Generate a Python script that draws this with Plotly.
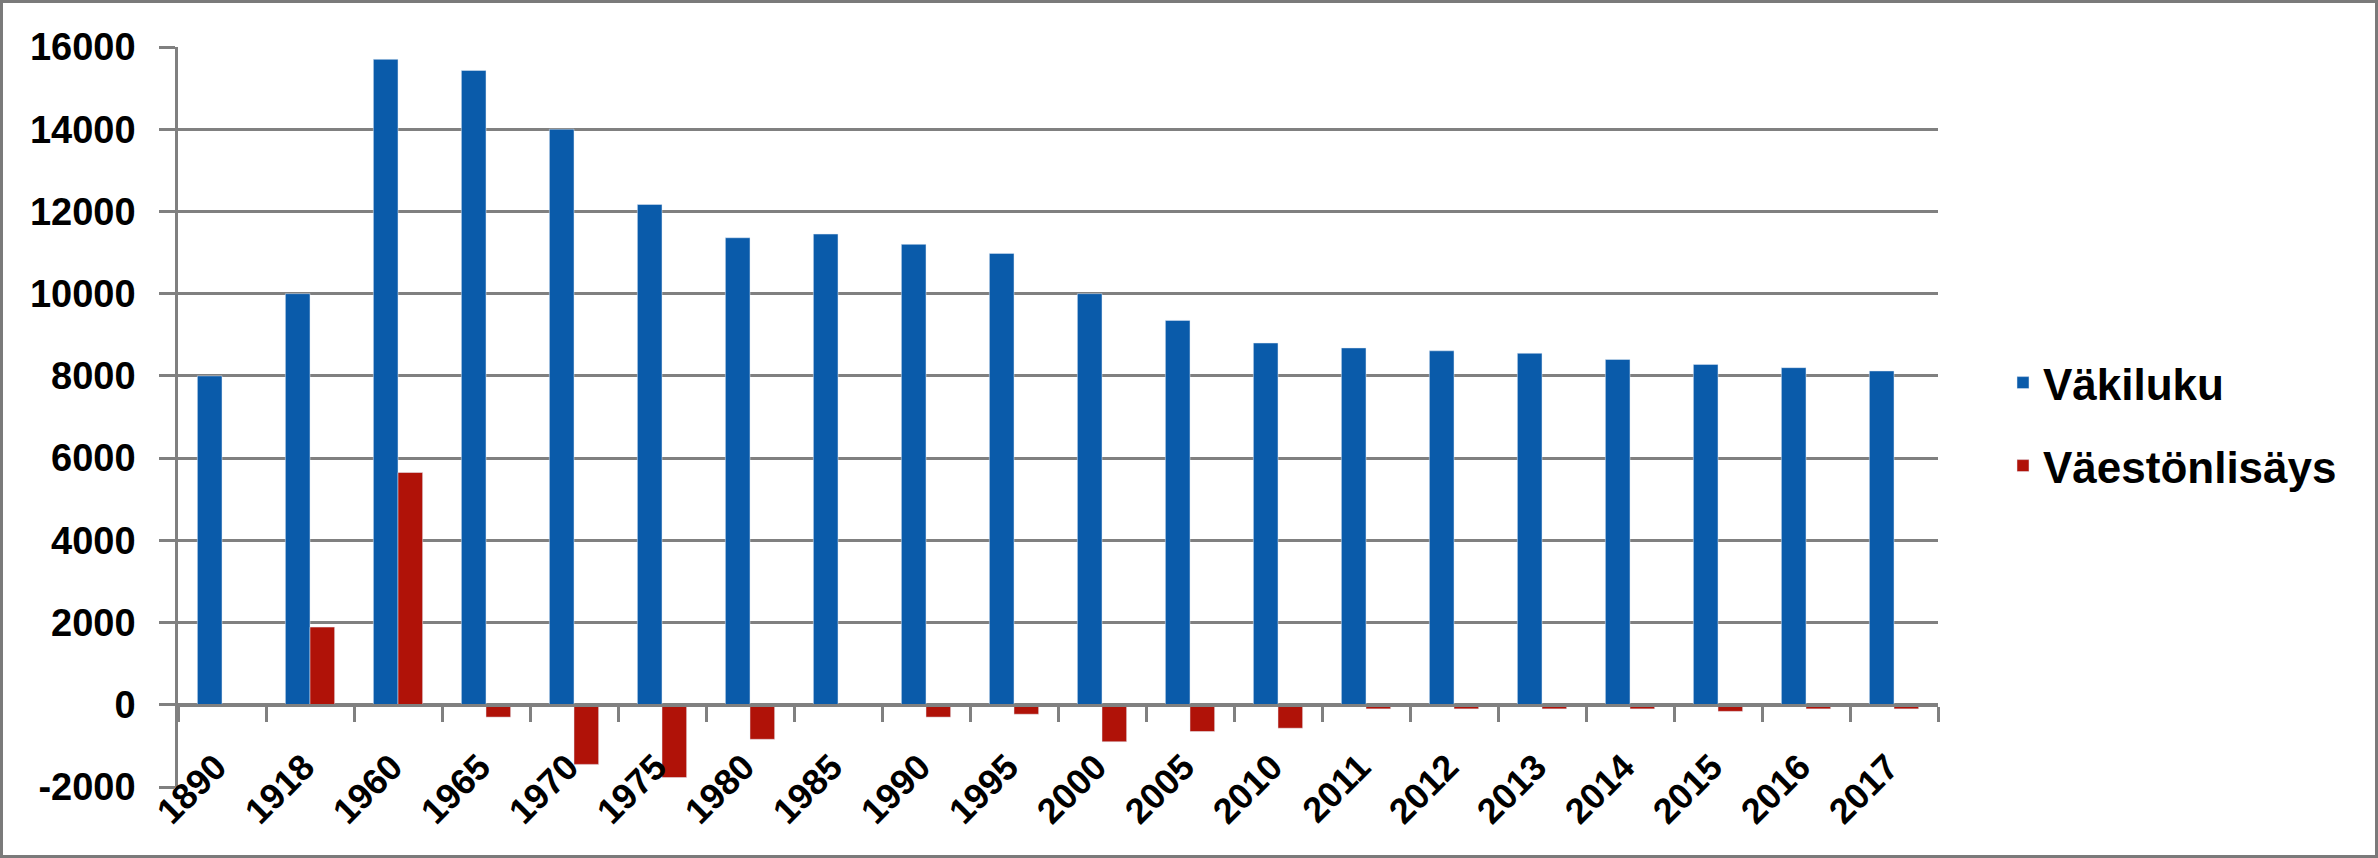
import plotly.graph_objects as go

years = ["1890", "1918", "1960", "1965", "1970", "1975", "1980", "1985", "1990", "1995",
         "2000", "2005", "2010", "2011", "2012", "2013", "2014", "2015", "2016", "2017"]
vakiluku = [8000, 10000, 15700, 15430, 14000, 12170, 11360, 11450, 11200, 10980,
            10000, 9350, 8800, 8680, 8610, 8550, 8400, 8280, 8200, 8120]
vaestonlisays = [0, 1890, 5650, -300, -1450, -1770, -840, 0, -300, -230,
                 -900, -650, -570, -100, -100, -100, -100, -160, -100, -100]

y_ticks = [-2000, 0, 2000, 4000, 6000, 8000, 10000, 12000, 14000, 16000]
y_ticktext = ["-2000", "0", "2000", "4000", "6000", "8000", "10000", "12000", "14000", "16000"]
y_range = [-2000, 16000]

W, H = 2378, 858
ML, MR, MT, MB = 178, 440, 47, 71
PW, PH = W - ML - MR, H - MT - MB

BLUE = "#0A5BAA"
RED = "#B01208"
GRID = "#808080"
FONT = "Liberation Sans, Arial"

fig = go.Figure()
fig.add_trace(go.Bar(x=years, y=vakiluku, name="Väkiluku",
                     marker=dict(color=BLUE), legend="legend"))
fig.add_trace(go.Bar(x=years, y=vaestonlisays, name="Väestönlisäys",
                     marker=dict(color=RED), legend="legend2"))

zero_pos = (0 - y_range[0]) / (y_range[1] - y_range[0])

fig.update_layout(
    width=W, height=H,
    margin=dict(l=ML, r=MR, t=MT, b=MB, autoexpand=False),
    paper_bgcolor="white", plot_bgcolor="white",
    barmode="group", bargap=0.44, bargroupgap=0,
    showlegend=True,
    font=dict(family=FONT, color="black"),
    xaxis=dict(
        type="category", anchor="free", position=zero_pos, automargin=False,
        showline=True, linecolor=GRID, linewidth=2.5,
        ticks="outside", tickson="boundaries", ticklen=15, tickwidth=2.5, tickcolor=GRID,
        tickangle=-45, ticklabelstandoff=25, ticklabelshift=-6,
        tickfont=dict(family=FONT, size=36, weight="bold", color="black"),
        showgrid=False,
    ),
    yaxis=dict(
        range=y_range, tickvals=y_ticks, ticktext=y_ticktext, automargin=False,
        showline=True, linecolor=GRID, linewidth=2.5,
        ticks="outside", ticklen=16, tickwidth=2.5, tickcolor=GRID,
        ticklabelstandoff=16,
        tickfont=dict(family=FONT, size=38, weight="bold", color="black"),
        showgrid=True, gridcolor=GRID, gridwidth=2.5,
        zeroline=False,
    ),
    legend=dict(x=(2003 - ML) / PW, xanchor="left", y=1 - (383 - MT) / PH, yanchor="middle",
                font=dict(family=FONT, size=44, weight="bold", color="black"),
                bgcolor="rgba(0,0,0,0)"),
    legend2=dict(x=(2003 - ML) / PW, xanchor="left", y=1 - (466 - MT) / PH, yanchor="middle",
                 font=dict(family=FONT, size=44, weight="bold", color="black"),
                 bgcolor="rgba(0,0,0,0)"),
    shapes=[dict(type="rect", xref="paper", yref="paper",
                 x0=(-ML + 1.5) / PW, x1=(PW + MR - 1.5) / PW,
                 y0=(-MB + 1.5) / PH, y1=(PH + MT - 1.5) / PH,
                 line=dict(color="#7a7a7a", width=3), fillcolor="rgba(0,0,0,0)", layer="below")],
)

fig.write_html("out.html", config={"displayModeBar": False},
               post_script="document.body.style.margin='0';document.body.style.overflow='hidden';")
